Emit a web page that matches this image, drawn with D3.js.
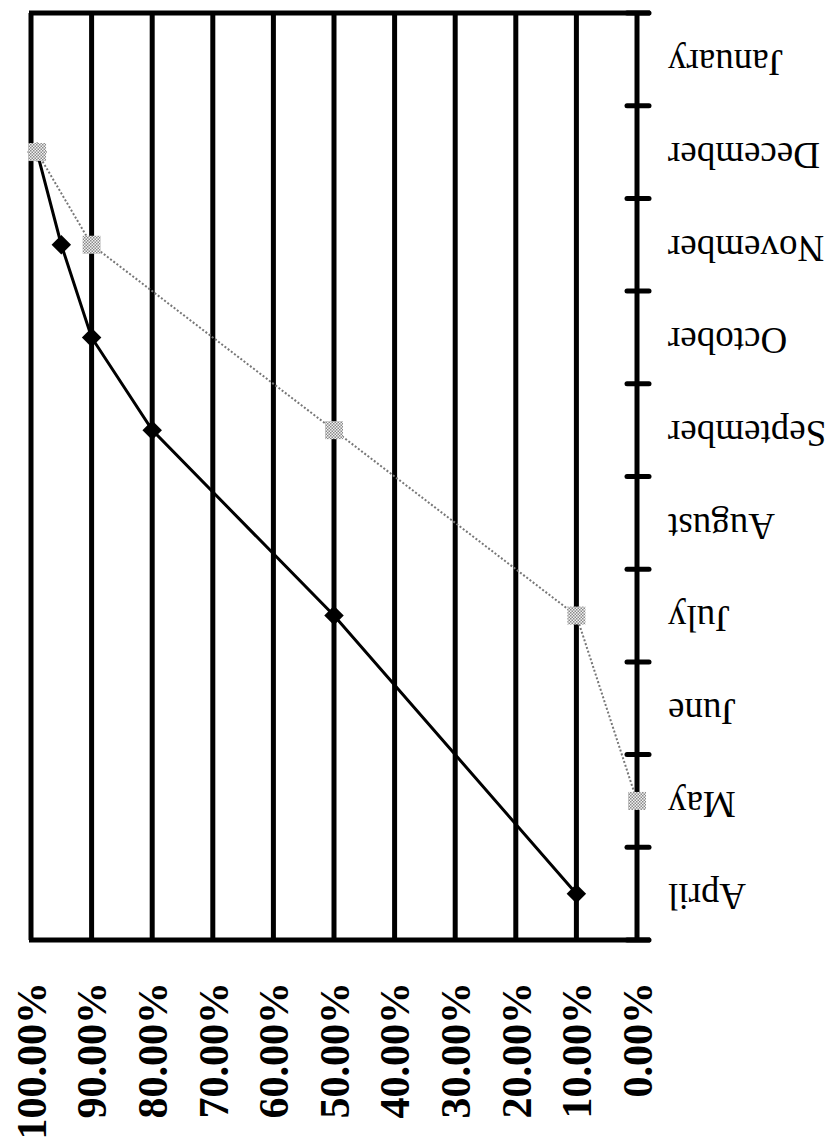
<!DOCTYPE html>
<html>
<head>
<meta charset="utf-8">
<script src="https://cdn.jsdelivr.net/npm/d3@7"></script>
<style>
  body { margin: 0; background: #fff; }
  text { font-family: "Liberation Serif", "Times New Roman", serif; }
</style>
</head>
<body>
<script>
var width = 832, height = 1148;

// months along the category axis (bottom to top)
var months = ["April", "May", "June", "July", "August", "September",
              "October", "November", "December", "January"];
// series values, null = no point
var seriesBlack = [0.10, null, null, 0.50, null, 0.80, 0.90, 0.95, 0.99, null];
var seriesGray  = [null, 0.00, null, 0.10, null, 0.50, null, 0.90, 0.99, null];
// value axis ticks
var pctTicks = [0, 0.1, 0.2, 0.3, 0.4, 0.5, 0.6, 0.7, 0.8, 0.9, 1.0];

var svg = d3.select("body").append("svg")
    .attr("width", width)
    .attr("height", height);

var defs = svg.append("defs");
var pat = defs.append("pattern")
    .attr("id", "dots")
    .attr("width", 3).attr("height", 3)
    .attr("patternUnits", "userSpaceOnUse");
pat.append("rect").attr("width", 3).attr("height", 3).attr("fill", "#f2f2f2");
pat.append("rect").attr("width", 1.5).attr("height", 1.5).attr("fill", "#8a8a8a");
pat.append("rect").attr("x", 1.5).attr("y", 1.5).attr("width", 1.5).attr("height", 1.5).attr("fill", "#8a8a8a");

var x = d3.scaleLinear()
    .domain([0, 1])
    .range([637, 31]);

var y = d3.scaleBand()
    .domain(months)
    .range([940, 13]);

var yc = d => y(d) + y.bandwidth() / 2;

// vertical gridlines (value axis)
svg.append("g")
  .selectAll("line")
  .data(pctTicks)
  .join("line")
    .attr("x1", d => x(d)).attr("x2", d => x(d))
    .attr("y1", 13).attr("y2", 940)
    .attr("stroke", "#000")
    .attr("stroke-width", 5);

// top and bottom border
svg.append("g")
  .selectAll("line")
  .data([13, 940])
  .join("line")
    .attr("x1", x(1) - 2).attr("x2", 650)
    .attr("y1", d => d).attr("y2", d => d)
    .attr("stroke", "#000")
    .attr("stroke-width", 5);

// category ticks on band boundaries
var bounds = months.map(m => y(m) + y.bandwidth());
bounds.push(y(months[months.length - 1]));
svg.append("g")
  .selectAll("line")
  .data(bounds)
  .join("line")
    .attr("x1", x(0) - 10).attr("x2", x(0) + 12)
    .attr("y1", d => d).attr("y2", d => d)
    .attr("stroke", "#000")
    .attr("stroke-width", 5)
    .attr("stroke-linecap", "round");

// category labels, upside down
svg.append("g")
  .selectAll("text")
  .data(months)
  .join("text")
    .attr("transform", d => `translate(668,${yc(d)}) rotate(180)`)
    .attr("text-anchor", "end")
    .attr("dy", "0.25em")
    .style("font-size", "37px")
    .text(d => d);

// value labels, reading bottom to top
var fmt = d3.format(".2%");
svg.append("g")
  .selectAll("text")
  .data(pctTicks)
  .join("text")
    .attr("transform", d => `translate(${x(d)},982) rotate(-90)`)
    .attr("text-anchor", "end")
    .attr("dy", "0.35em")
    .style("font-size", "42px")
    .style("font-weight", "bold")
    .text(d => fmt(d));

function pts(vals) {
  return months.map((m, i) => ({ m: m, v: vals[i] })).filter(d => d.v !== null);
}

var line = d3.line()
    .x(d => x(d.v))
    .y(d => yc(d.m));

// black series
var blackPts = pts(seriesBlack);
svg.append("path")
    .datum(blackPts)
    .attr("d", line)
    .attr("fill", "none")
    .attr("stroke", "#000")
    .attr("stroke-width", 3);

svg.append("g")
  .selectAll("path")
  .data(blackPts)
  .join("path")
    .attr("transform", d => `translate(${x(d.v)},${yc(d.m)}) rotate(45)`)
    .attr("d", d3.symbol().type(d3.symbolSquare).size(190))
    .attr("fill", "#000");

// gray series
var grayPts = pts(seriesGray);
svg.append("path")
    .datum(grayPts)
    .attr("d", line)
    .attr("fill", "none")
    .attr("stroke", "#777")
    .attr("stroke-width", 2)
    .attr("stroke-dasharray", "2,2");

svg.append("g")
  .selectAll("rect")
  .data(grayPts)
  .join("rect")
    .attr("x", d => x(d.v) - 9)
    .attr("y", d => yc(d.m) - 9)
    .attr("width", 18)
    .attr("height", 18)
    .attr("fill", "url(#dots)");
</script>
</body>
</html>
